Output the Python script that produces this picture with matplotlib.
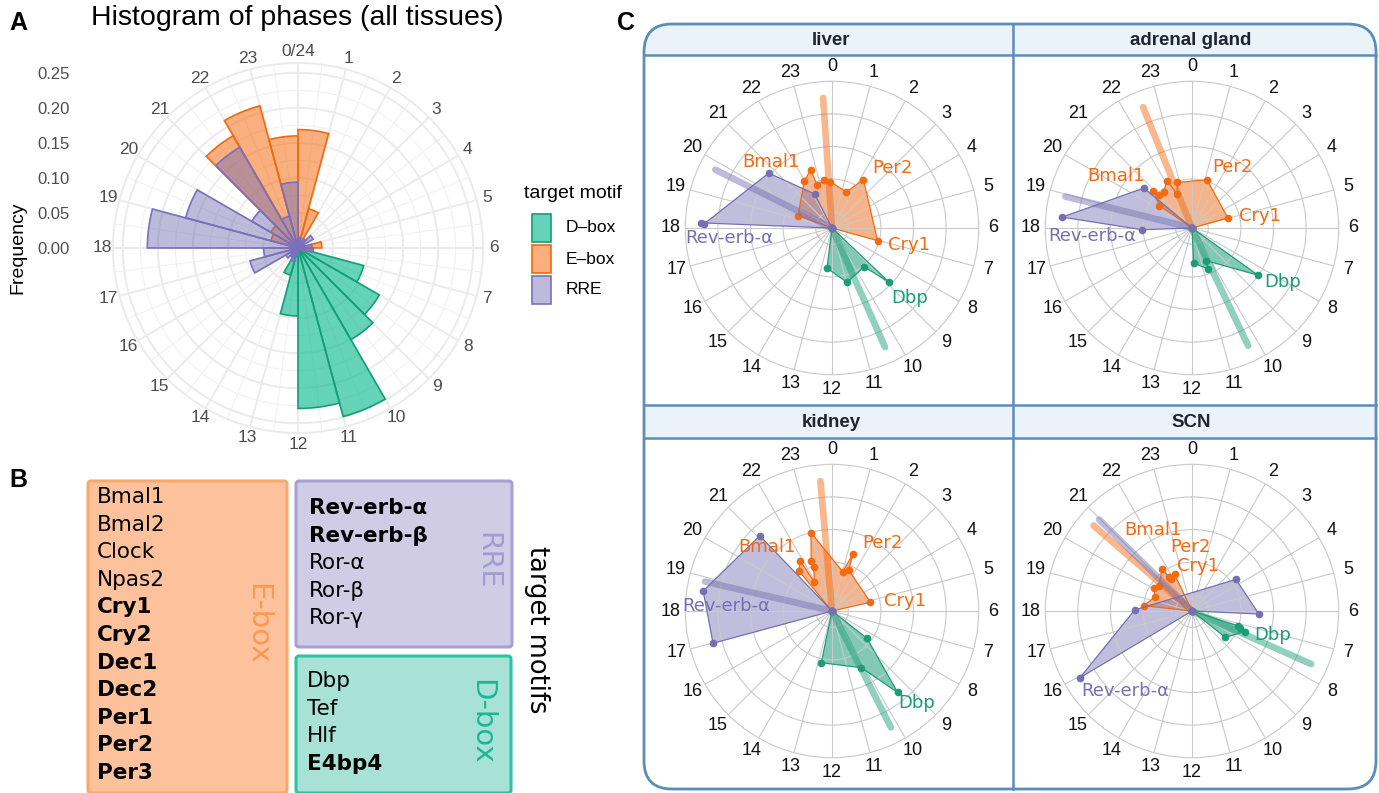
import numpy as np
import matplotlib
matplotlib.use("Agg")
import matplotlib.pyplot as plt
from matplotlib.colors import to_rgba
from matplotlib.patches import Rectangle, FancyBboxPatch

# PASSO 1: dados do painel A (frequencia das fases por hora, bins [h, h+1))
horas = list(range(24))
freq_dbox = [0, 0, 0, 0, 0, 0.01, 0.02, 0.097, 0.134, 0.151, 0.249, 0.229,
             0.097, 0.04, 0.015, 0, 0, 0, 0, 0, 0, 0, 0, 0]
freq_ebox = [0.169, 0.058, 0.015, 0.005, 0.008, 0.034, 0.02, 0, 0, 0, 0, 0,
             0, 0, 0, 0, 0, 0, 0.01, 0.04, 0.045, 0.185, 0.21, 0.16]
freq_rre = [0.015, 0.01, 0.015, 0.025, 0.01, 0.02, 0.022, 0.01, 0, 0, 0, 0,
            0.01, 0.02, 0.015, 0.02, 0.071, 0.049, 0.215, 0.166, 0.076, 0.166, 0.047, 0.094]
ticks_freq = [0.00, 0.05, 0.10, 0.15, 0.20, 0.25]
motivos = ["D\u2013box", "E\u2013box", "RRE"]

# PASSO 2: dados do painel B (genes por motivo, negrito = alvo)
genes_ebox = ["Bmal1", "Bmal2", "Clock", "Npas2", "Cry1", "Cry2", "Dec1", "Dec2", "Per1", "Per2", "Per3"]
negrito_ebox = [False, False, False, False, True, True, True, True, True, True, True]
genes_rre = ["Rev-erb-\u03b1", "Rev-erb-\u03b2", "Ror-\u03b1", "Ror-\u03b2", "Ror-\u03b3"]
negrito_rre = [True, True, False, False, False]
genes_dbox = ["Dbp", "Tef", "Hlf", "E4bp4"]
negrito_dbox = [False, False, False, True]

# PASSO 3: dados do painel C (fase em horas, amplitude) por tecido e motivo
raio_media = 4.0

liver_ebox_fase = [19.33, 21.98, 22.66, 22.73, 23.35, 23.86, 1.45, 2.2, 7.03]
liver_ebox_amp = [1.11, 1.68, 1.90, 1.38, 1.50, 1.42, 1.19, 1.77, 1.45]
liver_ebox_nome = ["", "", "Bmal1", "", "", "", "", "Per2", "Cry1"]
liver_rre_fase = [18.15, 18.12, 20.73, 22.2]
liver_rre_amp = [4.03, 3.93, 2.57, 1.17]
liver_rre_nome = ["Rev-erb-\u03b1", "", "", ""]
liver_dbox_fase = [12.47, 10.97, 9.35, 8.9]
liver_dbox_amp = [1.24, 1.73, 1.55, 2.41]
liver_dbox_nome = ["", "", "", "Dbp"]
liver_medias = [23.74, 19.77, 10.4]  # E-box, RRE, D-box

adrenal_ebox_fase = [20.3, 20.9, 21.04, 21.45, 22.15, 22.43, 22.79, 1.15, 4.95]
adrenal_ebox_amp = [1.21, 1.63, 1.43, 1.41, 1.64, 1.15, 1.47, 1.55, 1.14]
adrenal_ebox_nome = ["", "Bmal1", "", "", "", "", "", "Per2", "Cry1"]
adrenal_rre_fase = [17.87, 18.32, 20.64]
adrenal_rre_amp = [1.53, 4.0, 1.92]
adrenal_rre_nome = ["", "Rev-erb-\u03b1", ""]
adrenal_dbox_fase = [11.82, 10.58, 10.45, 8.37]
adrenal_dbox_amp = [1.07, 1.35, 1.09, 2.49]
adrenal_dbox_nome = ["", "", "", "Dbp"]
adrenal_medias = [22.53, 18.93, 10.3]

kidney_ebox_fase = [21.36, 21.85, 21.9, 22.48, 22.5, 23.0, 1.01, 1.35, 1.47, 5.15]
kidney_ebox_amp = [1.60, 1.82, 1.03, 1.45, 1.67, 2.49, 1.25, 1.86, 1.36, 1.21]
kidney_ebox_nome = ["", "Bmal1", "", "", "", "", "", "Per2", "", "Cry1"]
kidney_rre_fase = [16.99, 18.59, 21.08]
kidney_rre_amp = [3.78, 4.0, 3.2]
kidney_rre_nome = ["", "Rev-erb-\u03b1", ""]
kidney_dbox_fase = [12.78, 10.17, 9.41, 8.53]
kidney_dbox_amp = [1.62, 1.96, 3.21, 1.36]
kidney_dbox_nome = ["", "", "Dbp", ""]
kidney_medias = [23.66, 18.87, 10.21]

scn_ebox_fase = [18.42, 19.34, 20.08, 20.46, 21.63, 21.72, 21.8, 22.31]
scn_ebox_amp = [1.49, 1.22, 1.36, 1.28, 1.57, 1.27, 1.16, 1.24]
scn_ebox_nome = ["", "", "", "", "Bmal1", "", "Cry1", "Per2"]
scn_rre_fase = [15.95, 18.07, 3.62, 6.17]
scn_rre_amp = [3.99, 1.76, 1.66, 2.05]
scn_rre_nome = ["Rev-erb-\u03b1", "", "", ""]
scn_dbox_fase = [8.55, 7.41, 7.33, 7.19]
scn_dbox_amp = [1.30, 1.75, 1.56, 1.47]
scn_dbox_nome = ["", "Dbp", "", ""]
scn_medias = [20.73, 20.97, 7.6]

# cores
LARANJA = "#F26A12"
ROXO = "#7570B3"
VERDE = "#1B9E77"
AZUL = "#5B8DBA"
CINZA_A = "#4D4D4D"

W, H = 1379, 793
fig = plt.figure(figsize=(W / 100, H / 100), dpi=100)
fundo = fig.add_axes([0, 0, 1, 1])
fundo.set_xlim(0, W)
fundo.set_ylim(H, 0)
fundo.axis("off")


def caixa(cx, cy, raio):
    return [(cx - raio) / W, (H - cy - raio) / H, 2 * raio / W, 2 * raio / H]


def rad(h):
    return np.asarray(h, dtype=float) * 2 * np.pi / 24


# PASSO 4: painel A - histograma polar
RMAX_A = 0.264
ax_r = fig.add_axes(caixa(298, 248, 185))
ax_r.set_ylim(-RMAX_A, RMAX_A)
ax_r.set_yticks(ticks_freq)
ax_r.set_yticklabels([f"{t:.2f}" for t in ticks_freq], family="Liberation Sans")
ax_r.set_xticks([])
ax_r.patch.set_visible(False)
for s in ax_r.spines.values():
    s.set_visible(False)
ax_r.tick_params(axis="y", length=0, pad=31, labelsize=12, labelcolor=CINZA_A)

ax_a = fig.add_axes(caixa(298, 248, 185), projection="polar")
ax_a.set_theta_zero_location("N")
ax_a.set_theta_direction(-1)
ax_a.set_ylim(0, RMAX_A)
ax_a.set_yticks([0.05, 0.10, 0.15, 0.20, 0.25])
ax_a.set_yticks([0.025, 0.075, 0.125, 0.175, 0.225], minor=True)
ax_a.set_yticklabels([])
ax_a.set_xticks(rad(horas))
ax_a.set_xticks(rad(np.arange(24) + 0.5), minor=True)
ax_a.set_xticklabels([])
ax_a.grid(which="major", color="#EBEBEB", lw=1.4)
ax_a.grid(which="minor", color="#F1F1F1", lw=0.8)
ax_a.tick_params(which="both", length=0)
ax_a.spines["polar"].set_color("#EBEBEB")
ax_a.spines["polar"].set_linewidth(1.4)
ax_a.set_axisbelow(True)

estilos_a = [(freq_dbox, "#1BBE96", 0.68, "#159E78"),
             (freq_ebox, "#F56E14", 0.55, "#F26A0F"),
             (freq_rre, ROXO, 0.48, "#7A70BE")]
for freq, face, alfa, borda in estilos_a:
    ax_a.bar(rad(horas), freq, width=2 * np.pi / 24, align="edge",
             facecolor=to_rgba(face, alfa), edgecolor=borda, linewidth=1.2)

for h in horas:
    rotulo = "0/24" if h == 0 else str(h)
    ax_a.text(rad(h), 0.2797, rotulo, ha="center", va="center", fontsize=12.5,
              color=CINZA_A, family="Liberation Sans", clip_on=False)

fundo.text(297, 18, "Histogram of phases (all tissues)", ha="center", va="center",
           fontsize=20.5, family="Liberation Sans")
fundo.text(18, 248, "Frequency", rotation=90, ha="center", va="center",
           fontsize=14, family="Liberation Sans")
fundo.text(18, 23, "A", ha="center", va="center", fontsize=18, weight="bold", family="Liberation Sans")
fundo.text(18, 480, "B", ha="center", va="center", fontsize=18, weight="bold", family="Liberation Sans")
fundo.text(626, 23, "C", ha="center", va="center", fontsize=18, weight="bold", family="Liberation Sans")

# legenda do painel A
fundo.text(524, 194, "target motif", ha="left", va="center", fontsize=14, family="Liberation Sans")
for i, (freq, face, alfa, borda) in enumerate(estilos_a):
    yc = 228 + i * 31
    fundo.add_patch(Rectangle((532, yc - 14), 19, 28, facecolor=to_rgba(face, alfa),
                              edgecolor=borda, lw=1.2))
    fundo.text(566, yc, motivos[i], ha="left", va="center", fontsize=12.5, family="Liberation Sans")

# PASSO 5: painel B - caixas com os genes
caixas_b = [((88, 481), 199, 312, "#FDC19B", "#F9A86A"),
            ((296, 481), 216, 166, "#D0CCE6", "#A8A0D2"),
            ((296, 656), 215, 137, "#A8E1D6", "#2DC3A0")]
for (x0, y0), w, h, face, borda in caixas_b:
    fundo.add_patch(FancyBboxPatch((x0, y0), w, h, boxstyle="round,pad=0,rounding_size=3",
                                   facecolor=face, edgecolor=borda, lw=2.2))

for i, (g, b) in enumerate(zip(genes_ebox, negrito_ebox)):
    fundo.text(97, 497 + i * 27.6, g, ha="left", va="center", fontsize=15.5,
               weight="bold" if b else "normal")
for i, (g, b) in enumerate(zip(genes_rre, negrito_rre)):
    fundo.text(309, 508 + i * 27.6, g, ha="left", va="center", fontsize=15.5,
               weight="bold" if b else "normal")
for i, (g, b) in enumerate(zip(genes_dbox, negrito_dbox)):
    fundo.text(307, 681 + i * 27.6, g, ha="left", va="center", fontsize=15.5,
               weight="bold" if b else "normal")

fundo.text(257, 624, "E-box", rotation=270, ha="center", va="center", fontsize=21, color="#F99A50")
fundo.text(487, 561, "RRE", rotation=270, ha="center", va="center", fontsize=20.5, color="#A29CD2")
fundo.text(481, 722, "D-box", rotation=270, ha="center", va="center", fontsize=21, color="#19B996")
fundo.text(537, 630, "target motifs", rotation=270, ha="center", va="center", fontsize=18.5)

# PASSO 6: painel C - moldura com os quatro tecidos
moldura = FancyBboxPatch((644, 24), 732, 765, boxstyle="round,pad=0,rounding_size=28",
                         facecolor="white", edgecolor="none", zorder=1)
fundo.add_patch(moldura)
for y0, y1 in [(24, 55), (405, 438)]:
    faixa = Rectangle((644, y0), 732, y1 - y0, facecolor="#EAF2FA", edgecolor="none", zorder=1.5)
    fundo.add_patch(faixa)
    faixa.set_clip_path(moldura)
for y in [55, 405, 438]:
    fundo.plot([644, 1376], [y, y], color=AZUL, lw=1.8, zorder=2)
fundo.plot([1013, 1013], [24, 789], color=AZUL, lw=1.8, zorder=2)
fundo.add_patch(FancyBboxPatch((644, 24), 732, 765, boxstyle="round,pad=0,rounding_size=28",
                               facecolor="none", edgecolor=AZUL, lw=2.0, zorder=3))

tecidos = [
    ("liver", 832, 228, 40.5,
     [(liver_dbox_fase, liver_dbox_amp, liver_dbox_nome, VERDE, 0.55, liver_medias[2]),
      (liver_ebox_fase, liver_ebox_amp, liver_ebox_nome, LARANJA, 0.5, liver_medias[0]),
      (liver_rre_fase, liver_rre_amp, liver_rre_nome, ROXO, 0.45, liver_medias[1])],
     {"Bmal1": (-40, 8), "Per2": (29, 12), "Cry1": (31, -4), "Dbp": (21, -16), "Rev-erb-\u03b1": (29, -15)}),
    ("adrenal gland", 1192, 228, 40.5,
     [(adrenal_dbox_fase, adrenal_dbox_amp, adrenal_dbox_nome, VERDE, 0.55, adrenal_medias[2]),
      (adrenal_ebox_fase, adrenal_ebox_amp, adrenal_ebox_nome, LARANJA, 0.5, adrenal_medias[0]),
      (adrenal_rre_fase, adrenal_rre_amp, adrenal_rre_nome, ROXO, 0.45, adrenal_medias[1])],
     {"Bmal1": (-38, 15), "Per2": (25, 13), "Cry1": (32, 2), "Dbp": (25, -7), "Rev-erb-\u03b1": (30, -19)}),
    ("kidney", 832, 611, 422.5,
     [(kidney_dbox_fase, kidney_dbox_amp, kidney_dbox_nome, VERDE, 0.55, kidney_medias[2]),
      (kidney_ebox_fase, kidney_ebox_amp, kidney_ebox_nome, LARANJA, 0.5, kidney_medias[0]),
      (kidney_rre_fase, kidney_rre_amp, kidney_rre_nome, ROXO, 0.45, kidney_medias[1])],
     {"Bmal1": (-33, 14), "Per2": (29, 11), "Cry1": (35, 1), "Dbp": (19, -11), "Rev-erb-\u03b1": (23, -15)}),
    ("SCN", 1192, 611, 422.5,
     [(scn_dbox_fase, scn_dbox_amp, scn_dbox_nome, VERDE, 0.55, scn_medias[2]),
      (scn_ebox_fase, scn_ebox_amp, scn_ebox_nome, LARANJA, 0.5, scn_medias[0]),
      (scn_rre_fase, scn_rre_amp, scn_rre_nome, ROXO, 0.45, scn_medias[1])],
     {"Bmal1": (-9, 39), "Per2": (16, 27), "Cry1": (27, 13), "Dbp": (27, -3), "Rev-erb-\u03b1": (45, -13)}),
]

for nome, cx, cy, ytit, grupos, desloc in tecidos:
    fundo.text(cx - 1, ytit, nome, ha="center", va="center", fontsize=13.5, weight="bold",
               family="Liberation Sans", color="#1F2633", zorder=4)
    ax = fig.add_axes(caixa(cx, cy, 146.7), projection="polar")
    ax.set_theta_zero_location("N")
    ax.set_theta_direction(-1)
    ax.set_ylim(0, 4.5)
    ax.set_yticks([0.5, 1.5, 2.5, 3.5])
    ax.set_yticklabels([])
    ax.set_xticks(rad(horas))
    ax.set_xticklabels([])
    ax.tick_params(length=0)
    ax.grid(color="#C9C9C9", lw=0.8)
    ax.spines["polar"].set_color("#C9C9C9")
    ax.spines["polar"].set_linewidth(0.8)
    for h in horas:
        ax.text(rad(h), 4.95, str(h), ha="center", va="center", fontsize=13,
                family="Liberation Sans", color="#111111", clip_on=False)
    for fase, amp, nomes, cor, alfa, media in grupos:
        th = rad(fase)
        tt = np.concatenate([[th[0]], th, [th[-1]]])
        rr = np.concatenate([[0], amp, [0]])
        ax.fill(tt, rr, facecolor=to_rgba(cor, alfa), edgecolor="none")
        ax.plot(tt, rr, color=cor, lw=0.9, marker="o", ms=4.5)
        ax.plot(rad([media, media]), [0, raio_media], color=cor, lw=4.8, alpha=0.48,
                solid_capstyle="round")
        for t, r, n in zip(th, amp, nomes):
            if n:
                ax.annotate(n, xy=(t, r), xytext=desloc[n], textcoords="offset pixels",
                            ha="center", va="center", fontsize=13, color=cor,
                            annotation_clip=False)

fig.savefig("out.png", dpi=100)
